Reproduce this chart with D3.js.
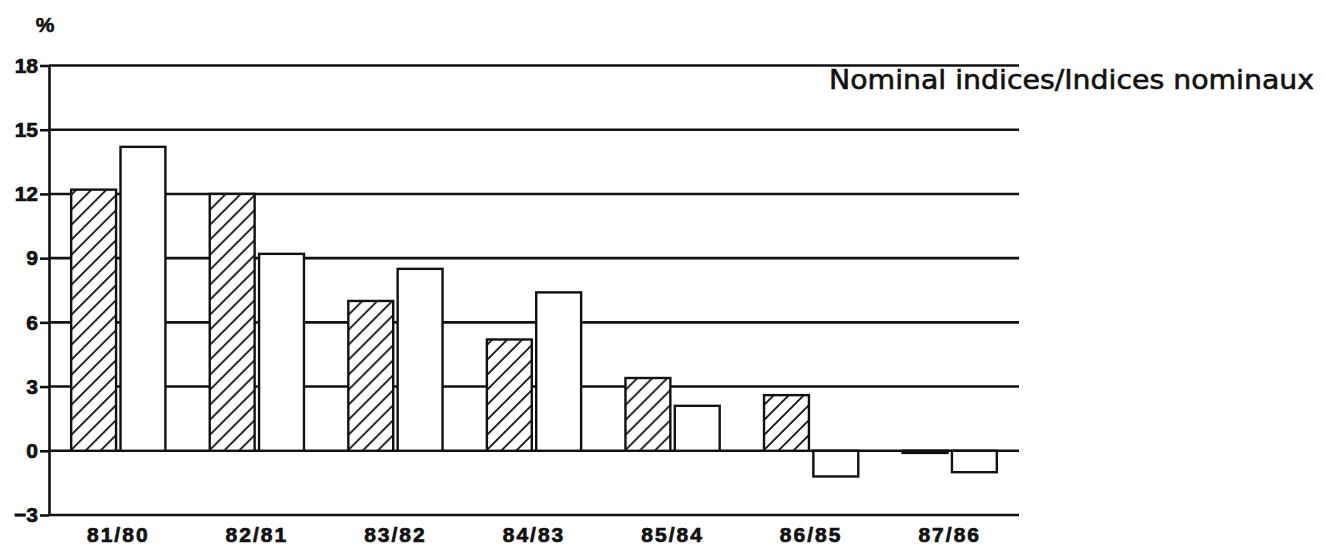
<!DOCTYPE html>
<html>
<head>
<meta charset="utf-8">
<script src="https://cdn.jsdelivr.net/npm/d3@7"></script>
<style>
  body { margin: 0; background: #fff; }
  svg { display: block; }
</style>
</head>
<body>
<div id="chart"></div>
<script>
// values
const categories = ["81/80", "82/81", "83/82", "84/83", "85/84", "86/85", "87/86"];
const hatchedValues = [12.2, 12.0, 7.0, 5.2, 3.4, 2.6, -0.1];
const whiteValues = [14.2, 9.2, 8.5, 7.4, 2.1, -1.2, -1.0];
const yTicks = [-3, 0, 3, 6, 9, 12, 15, 18];
const unitLabel = "%";
const title = "Nominal indices/Indices nominaux";

const width = 1324;
const height = 549;
const plotLeft = 49, plotRight = 1019, plotTop = 65.5, plotBottom = 515;
const ink = "#111";
const labelFont = "'Liberation Sans', Arial, sans-serif";

const svg = d3.select("#chart")
  .append("svg")
  .attr("width", width)
  .attr("height", height);

// hatch pattern for the first series
const defs = svg.append("defs");
const pat = defs.append("pattern")
  .attr("id", "hatch")
  .attr("patternUnits", "userSpaceOnUse")
  .attr("width", 15)
  .attr("height", 15);
pat.append("rect").attr("width", 15).attr("height", 15).attr("fill", "#fff");
pat.append("path")
  .attr("d", "M-3.75,3.75 L3.75,-3.75 M0,15 L15,0 M11.25,18.75 L18.75,11.25")
  .attr("stroke", ink)
  .attr("stroke-width", 1.8);

const y = d3.scaleLinear()
  .domain([-3, 18])
  .range([plotBottom, plotTop]);

const x0 = d3.scaleBand()
  .domain(categories)
  .range([plotLeft, plotRight])
  .paddingInner(0.32)
  .paddingOuter(0.16);

const x1 = d3.scaleBand()
  .domain(["hatched", "white"])
  .range([0, x0.bandwidth()])
  .paddingInner(0.09);

// horizontal grid lines (behind the bars)
svg.append("g")
  .selectAll("line")
  .data(yTicks)
  .enter()
  .append("line")
  .attr("x1", plotLeft)
  .attr("x2", plotRight)
  .attr("y1", d => y(d))
  .attr("y2", d => y(d))
  .attr("stroke", ink)
  .attr("stroke-width", 2.6);

// y axis
const yAxis = svg.append("g")
  .attr("transform", `translate(${plotLeft},0)`)
  .call(d3.axisLeft(y)
    .tickValues(yTicks)
    .tickSize(9)
    .tickSizeOuter(0)
    .tickPadding(2)
    .tickFormat(d => d < 0 ? "\u2212" + Math.abs(d) : d));

yAxis.select(".domain").attr("stroke", ink).attr("stroke-width", 2.6);
yAxis.selectAll(".tick line").attr("stroke", ink).attr("stroke-width", 2.6);
yAxis.selectAll(".tick text")
  .attr("fill", ink)
  .attr("stroke", ink)
  .attr("stroke-width", 0.7)
  .style("font-family", labelFont)
  .style("font-weight", "bold")
  .style("font-size", "21px");

// bars
const rows = categories.map((c, i) => ({
  cat: c,
  bars: [
    { key: "hatched", value: hatchedValues[i] },
    { key: "white", value: whiteValues[i] }
  ]
}));

const groups = svg.append("g")
  .selectAll("g")
  .data(rows)
  .enter()
  .append("g")
  .attr("transform", d => `translate(${x0(d.cat)},0)`);

groups.selectAll("rect")
  .data(d => d.bars)
  .enter()
  .append("rect")
  .attr("x", d => x1(d.key))
  .attr("width", x1.bandwidth())
  .attr("y", d => y(Math.max(0, d.value)))
  .attr("height", d => Math.abs(y(d.value) - y(0)))
  .attr("fill", d => d.key === "hatched" ? "url(#hatch)" : "#fff")
  .attr("stroke", ink)
  .attr("stroke-width", 2.4);

// category labels
const xAxis = svg.append("g")
  .attr("transform", `translate(0,${plotBottom})`)
  .call(d3.axisBottom(x0).tickSize(0).tickPadding(12));

xAxis.select(".domain").remove();
xAxis.selectAll(".tick text")
  .attr("fill", ink)
  .attr("stroke", ink)
  .attr("stroke-width", 0.7)
  .style("font-family", labelFont)
  .style("font-weight", "bold")
  .style("font-size", "21px")
  .style("letter-spacing", "2px");

// unit label
svg.append("text")
  .attr("x", 45)
  .attr("y", 32)
  .attr("text-anchor", "middle")
  .attr("fill", ink)
  .attr("stroke", ink)
  .attr("stroke-width", 0.6)
  .style("font-family", labelFont)
  .style("font-weight", "bold")
  .style("font-size", "21px")
  .text(unitLabel);

// title
svg.append("text")
  .attr("x", 829)
  .attr("y", 89)
  .attr("textLength", 485)
  .attr("lengthAdjust", "spacingAndGlyphs")
  .attr("fill", ink)
  .attr("stroke", ink)
  .attr("stroke-width", 0.6)
  .style("font-family", "'DejaVu Sans', sans-serif")
  .style("font-size", "26px")
  .text(title);
</script>
</body>
</html>
